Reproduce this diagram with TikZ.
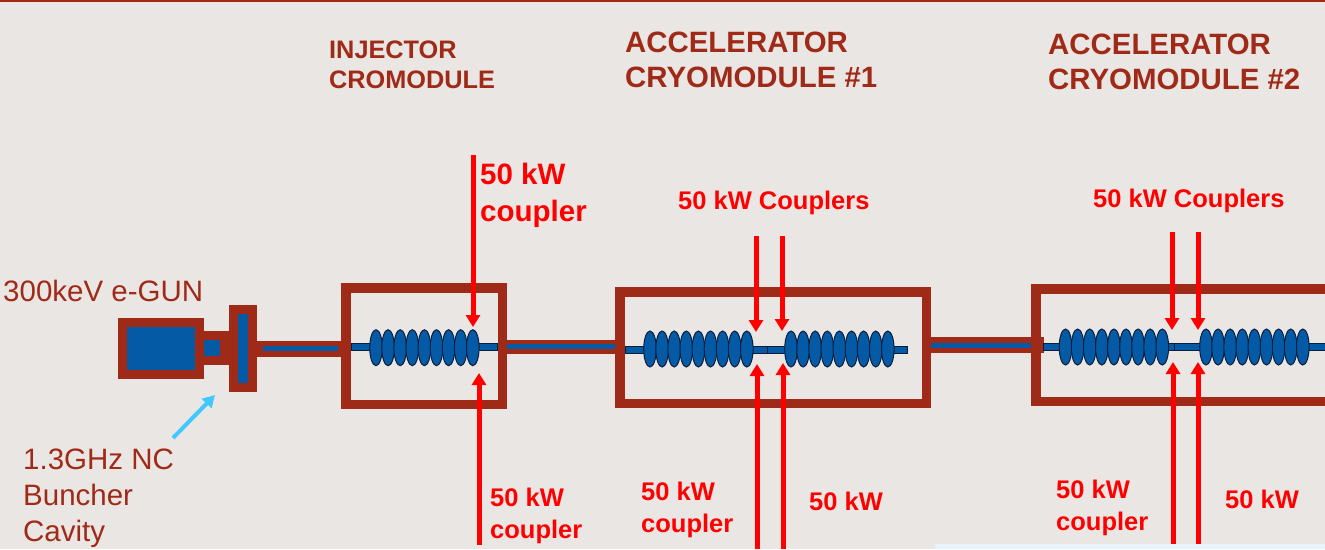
\documentclass[tikz,border=0pt]{standalone}
\usepackage{fontspec}
\setmainfont{Liberation Sans}
\usetikzlibrary{arrows.meta,positioning,shapes.geometric}
\definecolor{fond}{RGB}{234,230,227}
\definecolor{brique}{RGB}{160,42,24}
\definecolor{bleu}{RGB}{5,90,165}
\definecolor{nuit}{RGB}{10,30,60}
\definecolor{rouge}{RGB}{255,0,0}
\definecolor{ciel}{RGB}{64,200,255}
\definecolor{bande}{RGB}{232,242,250}
\tikzset{
	block/.style={rectangle,draw=brique,fill=bleu,line width=9pt,inner sep=0pt},
	modbox/.style={rectangle,draw=brique,line width=9.5pt,inner sep=0pt},
	tube/.style={rectangle,draw=nuit,fill=bleu,line width=0.8pt,inner sep=0pt,minimum height=7pt},
	cavity/.style={ellipse,draw=nuit,fill=bleu,line width=1pt,inner sep=0pt,minimum width=12.6pt,minimum height=36pt},
	pipeout/.style={draw=brique,line width=16pt},
	pipein/.style={draw=bleu,line width=5pt},
	feed/.style={draw=rouge,line width=5pt,-{Triangle[width=14pt,length=12pt]}},
	lab/.style={inner sep=0pt,anchor=north west,align=left},
	titre/.style={lab,text=brique,font=\fontsize{29.4}{35}\selectfont\bfseries},
	petit/.style={lab,text=brique,font=\fontsize{25.3}{30}\selectfont\bfseries},
	plain/.style={lab,text=brique,font=\fontsize{29.5}{36}\selectfont},
	power/.style={lab,text=rouge,font=\fontsize{25.5}{32}\selectfont\bfseries},
}
\begin{document}
\begin{tikzpicture}[x=1pt,y=-1pt]
	\path[use as bounding box,clip] (0,0) rectangle (1325,549);
	\fill[fond] (0,0) rectangle (1325,549);
	\fill[brique] (0,0) rectangle (1325,2);
	\fill[bande] (935,544) rectangle (1325,549);
	% gun and buncher
	\node[block,minimum width=77pt,minimum height=52pt] (gun) at (161,348.5) {};
	\fill[brique] (204,331) rectangle (229,365);
	\fill[bleu] (204,340) rectangle (220,356);
	\node[block,minimum width=19pt,minimum height=78pt] (buncher) at (243,348.5) {};
	% modules
	\node[modbox,minimum width=156.5pt,minimum height=116.5pt] (inj) at (424,346) {};
	\node[modbox,minimum width=306.5pt,minimum height=111.5pt] (acca) at (773,347.5) {};
	\node[modbox,minimum width=400pt,minimum height=112.5pt,anchor=west] (accb) at (1031,345) {};
	% beam pipes
	\draw[pipeout] (buncher.east) -- (buncher.east -| inj.west);
	\draw[pipein,shorten <=6pt,shorten >=3pt] (buncher.east) -- (buncher.east -| inj.west);
	\coordinate (injout) at (inj.east |- 0,346.5);
	\coordinate (accain) at (acca.west |- 0,346.5);
	\draw[pipeout,line width=14pt] (injout) -- (accain);
	\draw[pipein] (injout) -- (accain);
	\coordinate (accaout) at (acca.east |- 0,345);
	\coordinate (accbin) at (1044,345);
	\draw[pipeout] (accaout) -- (accbin);
	\draw[pipein] (accaout) -- (accb.west |- accaout);
	% tubes
	\node[tube,minimum width=146pt] (tubeinj) at (424,347) {};
	\node[tube,minimum width=142pt] (tubeaa) at (696,349.5) {};
	\node[tube,minimum width=140pt] (tubeab) at (837,349.5) {};
	\node[tube,minimum width=140pt] (tubeba) at (1113,347) {};
	\node[tube,minimum width=160pt] (tubebb) at (1254,347) {};
	% cavities
	\foreach \i in {0,...,8}{
		\node[cavity] (cavi\i) at ({376+12.1*\i},347.7) {};
		\node[cavity] (cavaa\i) at ({650+12.1*\i},349) {};
		\node[cavity] (cavab\i) at ({791+12.1*\i},349) {};
		\node[cavity] (cavba\i) at ({1065.5+12.1*\i},347) {};
		\node[cavity] (cavbb\i) at ({1206+12.1*\i},347) {};
	}
	% power feeds
	\foreach \n/\x/\ya/\yb in {it/473/155/327,ib/479/545/373,
		aat/756/236/332,abt/782/236/331,aab/757/549/364,abb/783/549/363,
		bat/1172/232/330,bbt/1198/232/330,bab/1173/544/362,bbb/1198/544/362}{
		\coordinate (\n from) at (\x,\ya);
		\coordinate (\n to) at (\x,\yb);
		\draw[feed] (\n from) -- (\n to);
	}
	\coordinate (cyfrom) at (173,438);
	\coordinate (cyto) at (215,395);
	\draw[draw=ciel,line width=4pt,-{Triangle[width=13pt,length=12pt]}] (cyfrom) -- (cyto);
	% labels
	\node[petit] (injtitle) at (329,41) {INJECTOR\\CROMODULE};
	\node[titre] (accatitle) at (625,32) {ACCELERATOR\\CRYOMODULE \#1};
	\node[titre] (accbtitle) at (1048,34) {ACCELERATOR\\CRYOMODULE \#2};
	\node[plain] (gunlab) at (3,280) {300keV e-GUN};
	\node[plain] (bunchlab) at (23,449) {1.3GHz NC\\Buncher\\Cavity};
	\node[power,font=\fontsize{29.5}{37}\selectfont\bfseries] (itlab) at (480,163) {50 kW\\coupler};
	\node[power] (ublab) at (490,488) {50 kW\\coupler};
	\node[power] (acoup) at (678,191) {50 kW Couplers};
	\node[power] (bcoup) at (1093,189) {50 kW Couplers};
	\node[power] (aalab) at (641,482) {50 kW\\coupler};
	\node[power] (ablab) at (809,492) {50 kW};
	\node[power] (balab) at (1056,480) {50 kW\\coupler};
	\node[power] (bblab) at (1225,490) {50 kW};
\end{tikzpicture}
\end{document}
